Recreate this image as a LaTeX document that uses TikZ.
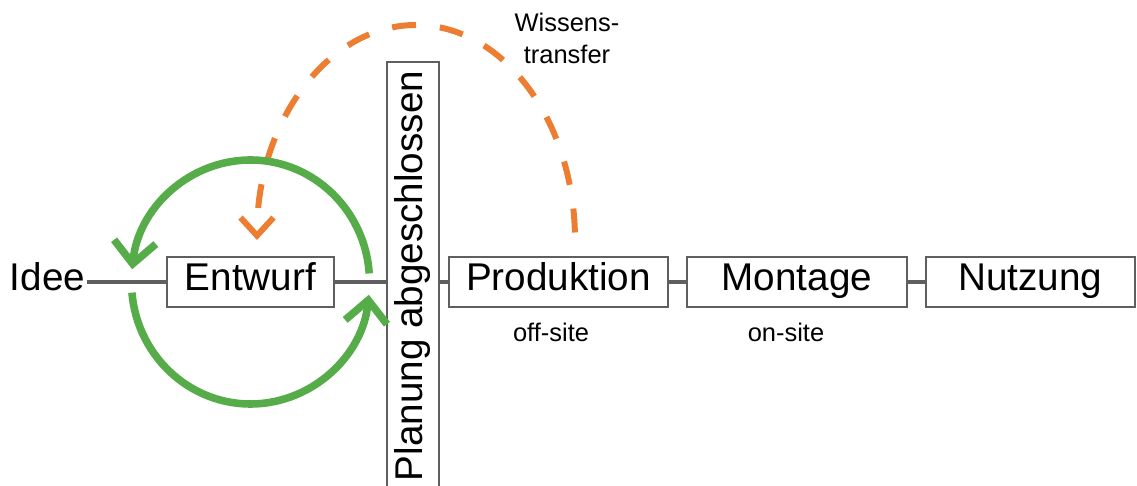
\documentclass[tikz,border=0pt]{standalone}
\usepackage{fontspec}
\setmainfont{Liberation Sans}
\usetikzlibrary{arrows.meta}
\definecolor{loopgreen}{RGB}{86,172,72}
\definecolor{transferorange}{RGB}{237,125,49}
\definecolor{boxgray}{RGB}{95,95,95}
\tikzstyle{word}=[inner sep=1pt, text height=0.56cm, text depth=0.2cm, font=\fontsize{22}{26}\selectfont]
\tikzstyle{phase}=[word, rectangle, draw=boxgray, line width=0.8pt, minimum height=1cm, inner sep=0pt]
\tikzstyle{note}=[font=\fontsize{14.5}{18.5}\selectfont, align=center]
\tikzstyle{link}=[draw=boxgray, line width=2pt]
\tikzstyle{loop}=[draw=loopgreen, line width=4.3pt, -{Straight Barb[length=0.44cm,width=0.84cm]}]
\tikzstyle{transfer}=[draw=transferorange, line width=3.4pt, dash pattern=on 0.48cm off 0.48cm, dash phase=0.81cm, -{Straight Barb[length=0.36cm,width=0.66cm]}]

\begin{document}
\begin{tikzpicture}[x=0.02cm, y=0.02cm]
  \useasboundingbox (0,0) rectangle (1137,486);
  \node[word] (idee) at (47.5,204) {Idee};
  \node[phase, minimum width=3.34cm] (entwurf) at (250.5,204) {Entwurf};
  \node[phase, rotate=90, minimum width=8.56cm, minimum height=1.04cm] (planung) at (413,210) {Planung abgeschlossen};
  \node[phase, minimum width=4.38cm] (produktion) at (558.5,204) {Produktion};
  \node[phase, minimum width=4.4cm] (montage) at (797,204) {Montage};
  \node[phase, minimum width=4.18cm] (nutzung) at (1030.5,204) {Nutzung};
  \node[note] (offsite) at (551,154) {off-site};
  \node[note] (onsite) at (786,154) {on-site};
  \node[note] (wissen) at (567,447.5) {Wissens-\\transfer};

  \draw[link] (idee.east) -- (entwurf.west);
  \draw[link] (entwurf.east) -- (entwurf.east -| planung.north);
  \draw[link] (planung.south |- produktion.west) -- (produktion.west);
  \draw[link] (produktion) -- (montage);
  \draw[link] (montage) -- (nutzung);

  \coordinate (transferstart) at (575,246);
  \draw[transfer] (transferstart) arc[start angle=0, end angle=180, x radius=159, y radius=215];

  \draw[loop] (entwurf.center) ++(4:119 and 122) arc[start angle=4, end angle=174, x radius=119, y radius=122];
  \draw[loop] (entwurf.center) ++(185:119 and 122) arc[start angle=185, end angle=354, x radius=119, y radius=122];
\end{tikzpicture}
\end{document}
